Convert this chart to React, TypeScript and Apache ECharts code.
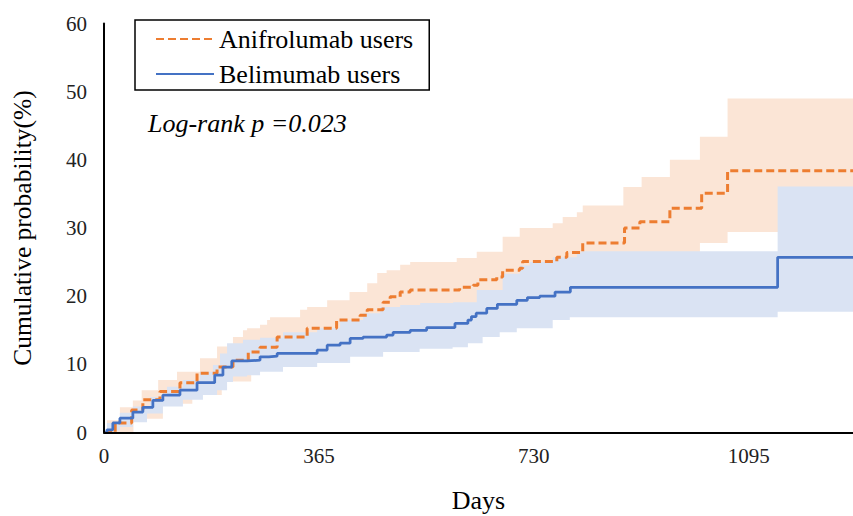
import React, { useEffect, useRef } from "react";
import * as echarts from "echarts";

// Tick labels
const xTicks = [0, 365, 730, 1095];
const X_MAX = 1272;

// Anifrolumab users: cumulative probability (%) step points [day, value]
const anifroLine: number[][] = [
  [0, 0], [19, 1.4], [47, 3.3], [66, 4.8], [95, 6.0], [129, 7.3], [158, 8.7], [192, 9.6],
  [219, 10.6], [245, 11.8], [265, 12.5], [294, 14.0], [345, 15.3], [395, 16.5], [435, 17.2],
  [447, 18.0], [474, 19.1], [486, 19.9], [503, 20.6], [520, 20.9], [604, 21.3], [627, 21.6],
  [635, 22.4], [667, 22.8], [677, 23.8], [706, 24.1], [711, 25.1], [769, 25.7], [786, 26.4],
  [813, 27.8], [884, 30.0], [910, 30.9], [961, 32.9], [1015, 35.1], [1059, 38.4], [1272, 38.4],
];
const anifroUpper: number[][] = [
  [0, 0], [5, 1.8], [27, 3.7], [49, 4.7], [64, 6.2], [92, 7.7], [124, 8.9], [163, 10.9],
  [192, 12.6], [219, 14.0], [236, 15.0], [243, 15.3], [265, 15.8], [277, 16.5], [282, 16.9],
  [333, 18.0], [345, 18.4], [379, 19.4], [417, 20.6], [447, 21.9], [464, 23.4], [480, 23.8],
  [503, 24.6], [520, 25.0], [599, 25.6], [633, 26.5], [677, 28.7], [706, 30.0], [762, 30.7],
  [779, 31.6], [803, 32.3], [813, 33.3], [882, 36.0], [913, 37.5], [961, 40.0], [1012, 43.4],
  [1059, 49.0], [1272, 49.0],
];
const anifroLower: number[][] = [
  [0, 0], [50, 2.0], [100, 4.2], [150, 5.5], [200, 7.5], [250, 9.5], [300, 10.5], [365, 11.5],
  [450, 13.0], [550, 15.5], [650, 18.0], [730, 20.0], [800, 22.0], [880, 24.0], [960, 25.5],
  [1012, 27.8], [1059, 29.4], [1272, 29.4],
];

// Belimumab users
const belimLine: number[][] = [
  [0, 0], [5, 0.4], [15, 1.4], [27, 2.1], [49, 3.0], [66, 3.7], [83, 4.7], [100, 5.5],
  [129, 6.2], [158, 7.3], [188, 8.4], [202, 9.6], [217, 10.5], [243, 10.6], [265, 11.1],
  [280, 11.2], [294, 11.6], [362, 12.1], [379, 12.8], [401, 13.1], [418, 13.8], [440, 14.0],
  [480, 14.3], [491, 14.7], [520, 15.0], [548, 15.4], [596, 16.0], [618, 16.5], [624, 17.0],
  [632, 17.5], [650, 18.2], [668, 18.8], [701, 19.4], [719, 19.8], [740, 20.0], [766, 20.6],
  [792, 21.3], [1144, 25.7], [1272, 25.7],
];
const belimUpper: number[][] = [
  [0, 0], [5, 1.4], [27, 2.9], [49, 3.8], [78, 5.2], [107, 6.7], [134, 7.7], [163, 8.9],
  [185, 9.9], [197, 11.6], [209, 13.1], [236, 13.6], [265, 13.9], [304, 14.7], [362, 15.3],
  [401, 16.5], [440, 17.5], [469, 18.4], [503, 18.7], [537, 19.0], [593, 19.1], [633, 20.9],
  [677, 23.3], [706, 24.5], [723, 25.0], [762, 25.7], [803, 26.4], [811, 26.6], [1144, 36.1],
  [1272, 36.1],
];
const belimLower: number[][] = [
  [0, 0], [15, 0.3], [27, 0.8], [49, 1.5], [73, 2.8], [100, 3.8], [134, 4.8], [168, 5.5],
  [192, 6.2], [209, 7.4], [219, 8.2], [243, 8.4], [265, 8.9], [304, 9.6], [362, 10.2],
  [418, 11.1], [474, 11.8], [536, 12.3], [592, 12.5], [618, 13.1], [643, 14.0], [672, 14.7],
  [701, 15.3], [762, 16.5], [791, 16.9], [1144, 17.7], [1272, 17.7],
];

const ORANGE = "#ED7D31";
const BLUE = "#4472C4";
const ORANGE_BAND = "#FBE5D6";
const BLUE_BAND = "#DAE3F3";
const FONT = "'Liberation Serif', 'Times New Roman', serif";

function stepPoints(arr: number[][]): number[][] {
  const out: number[][] = [];
  for (let i = 0; i < arr.length; i++) {
    if (i > 0) out.push([arr[i][0], arr[i - 1][1]]);
    out.push(arr[i]);
  }
  return out;
}

function bandSeries(name: string, upper: number[][], lower: number[][], fill: string, z: number) {
  return {
    type: "custom",
    name,
    z,
    silent: true,
    data: [[0, 0]],
    encode: { x: 0, y: 1 },
    renderItem: (_params: any, api: any) => {
      const up = stepPoints(upper).map((p) => api.coord(p));
      const lo = stepPoints(lower).map((p) => api.coord(p)).reverse();
      return {
        type: "polygon",
        shape: { points: up.concat(lo) },
        style: { fill, stroke: null },
      };
    },
  };
}

export default function App() {
  const ref = useRef<HTMLDivElement>(null);
  useEffect(() => {
    if (!ref.current) return;
    const chart = echarts.init(ref.current, null, { renderer: "svg" });
    chart.setOption({
      animation: false,
      backgroundColor: "#fff",
      textStyle: { fontFamily: FONT },
      grid: {
        left: 104,
        right: 0,
        top: 23.5,
        bottom: 83.5,
        containLabel: false,
        outerBoundsMode: "none",
      },
      legend: {
        data: ["Anifrolumab users", "Belimumab users"],
        orient: "vertical",
        left: 135,
        top: 20,
        itemWidth: 58,
        itemHeight: 14,
        itemGap: 9,
        padding: [6, 16, 3, 20],
        borderColor: "#000",
        borderWidth: 1.5,
        backgroundColor: "#fff",
        itemStyle: { color: "transparent", borderColor: "transparent", borderWidth: 0, opacity: 0 },
        textStyle: { fontFamily: FONT, fontSize: 26, color: "#000" },
      },
      xAxis: {
        type: "value",
        min: 0,
        max: X_MAX,
        interval: 365,
        name: "Days",
        nameLocation: "middle",
        nameGap: 55,
        nameTextStyle: { fontFamily: FONT, fontSize: 26, color: "#000" },
        axisLine: { show: true, lineStyle: { color: "#000", width: 2 } },
        axisTick: { show: false },
        splitLine: { show: false },
        axisLabel: {
          showMaxLabel: false,
          margin: 13,
          fontFamily: FONT,
          fontSize: 21,
          color: "#222",
          formatter: (v: number) => (xTicks.indexOf(v) >= 0 ? String(v) : ""),
        },
        z: 10,
      },
      yAxis: {
        type: "value",
        min: 0,
        max: 60,
        interval: 10,
        name: "Cumulative probability(%)",
        nameLocation: "middle",
        nameRotate: 90,
        nameGap: 69,
        nameTextStyle: { fontFamily: FONT, fontSize: 25.5, color: "#000" },
        axisLine: { show: true, lineStyle: { color: "#000", width: 2 } },
        axisTick: { show: false },
        splitLine: { show: false },
        axisLabel: { margin: 17, fontFamily: FONT, fontSize: 21, color: "#222" },
        z: 10,
      },
      graphic: [
        {
          type: "text",
          left: 148,
          top: 110,
          style: {
            text: "Log-rank p =0.023",
            fontStyle: "italic",
            fontSize: 26,
            fontFamily: FONT,
            fill: "#000",
          },
        },
      ],
      series: [
        bandSeries("Anifrolumab band", anifroUpper, anifroLower, ORANGE_BAND, 1),
        bandSeries("Belimumab band", belimUpper, belimLower, BLUE_BAND, 1),
        {
          type: "line",
          name: "Anifrolumab users",
          data: anifroLine,
          step: "end",
          symbol: "none",
          z: 3,
          lineStyle: { color: ORANGE, width: 3, type: [8, 4] },
          itemStyle: { color: ORANGE },
        },
        {
          type: "line",
          name: "Belimumab users",
          data: belimLine,
          step: "end",
          symbol: "none",
          z: 4,
          lineStyle: { color: BLUE, width: 2.75 },
          itemStyle: { color: BLUE },
        },
      ],
    });
    return () => chart.dispose();
  }, []);
  return (
    <div style={{ position: "absolute", left: 0, top: 0, width: 853, height: 516, background: "#fff" }}>
      <div ref={ref} style={{ width: 853, height: 516 }} />
    </div>
  );
}
